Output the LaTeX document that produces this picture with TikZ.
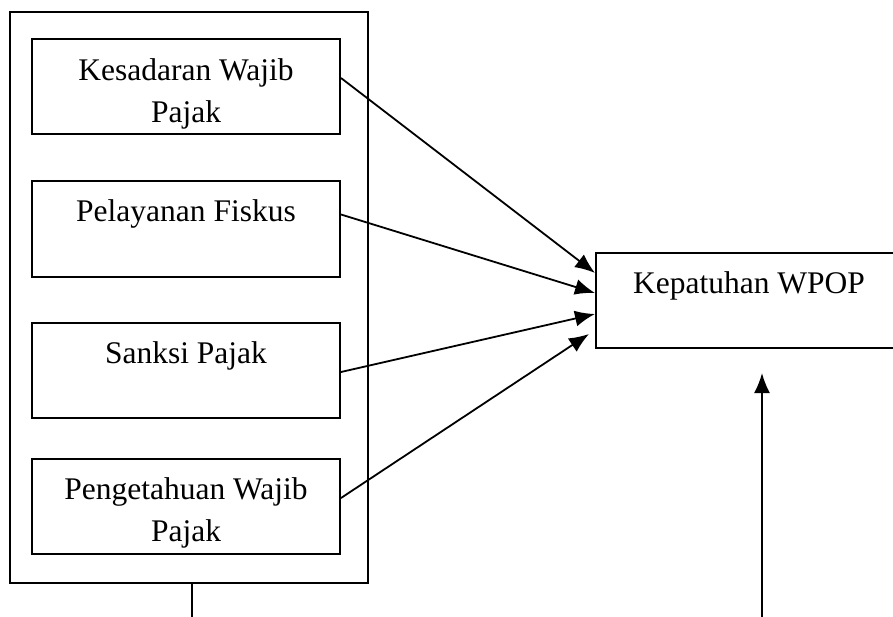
\documentclass[tikz,border=0pt]{standalone}
\usepackage{fontspec}
\setmainfont{Liberation Serif}
\usetikzlibrary{%
  arrows.meta,%
  calc%
}
\tikzset{
  varbox/.style={draw,line width=2pt,minimum width=308pt,minimum height=95pt,inner sep=0pt},
  varlabel/.style={anchor=north,inner sep=0pt,align=center,
    font=\fontsize{31.5pt}{42pt}\selectfont},
  link/.style={-{Latex[length=20pt,width=16pt]},line width=1.8pt}
}

\begin{document}
\begin{tikzpicture}[x=1pt,y=-1pt]
        \useasboundingbox (0,0) rectangle (893,617);
        \clip (0,0) rectangle (893,617);
        \node[draw,line width=1.9pt,minimum width=358pt,minimum height=571pt] (frame) at (189,297.5) {};
        \node[varbox] (sadar) at (186,86.5) {};
        \node[varbox,minimum height=96pt] (layan) at (186,229) {};
        \node[varbox] (sanksi) at (186,370.5) {};
        \node[varbox] (tahu) at (186,506.5) {};
        \node[varbox,minimum width=306pt] (patuh) at (749,300.5) {};
        \node[varlabel] at ($(sadar.north)+(0,20)$) {Kesadaran Wajib\\Pajak};
        \node[varlabel] at ($(layan.north)+(0,19)$) {Pelayanan Fiskus};
        \node[varlabel] at ($(sanksi.north)+(0,19)$) {Sanksi Pajak};
        \node[varlabel] at ($(tahu.north)+(0,19)$) {Pengetahuan Wajib\\Pajak};
        \node[varlabel] at ($(patuh.north)+(0,19)$) {Kepatuhan WPOP};
        \draw[link] ([yshift=8.5pt]sadar.east) -- ([yshift=27.5pt]patuh.west);
        \draw[link] ([yshift=14.5pt]layan.east) -- ([yshift=7.5pt]patuh.west);
        \draw[link] ([yshift=-1.5pt]sanksi.east) -- ([yshift=-13.5pt]patuh.west);
        \draw[link] ([yshift=8.5pt]tahu.east) -- ([xshift=-6pt,yshift=-33.5pt]patuh.west);
        \coordinate (fb) at (192,617);
        \coordinate (kb) at (762,617);
        \coordinate (kt) at (762,373);
        \draw[line width=1.9pt] (frame.south -| fb) -- (fb);
        \draw[link] (kb) -- (kt);
      \end{tikzpicture}
\end{document}
